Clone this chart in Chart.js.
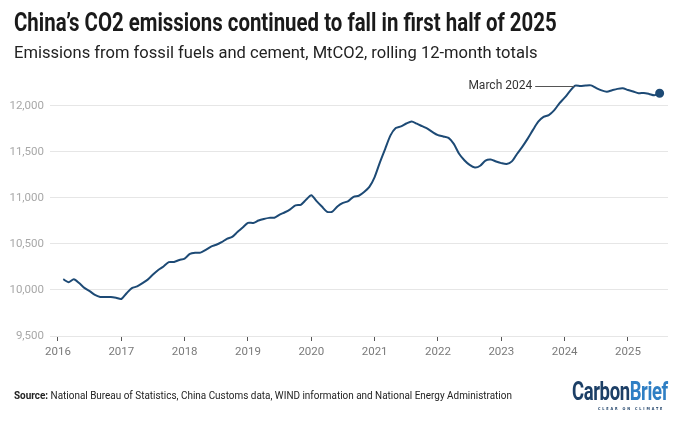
<!DOCTYPE html>
<html>
<head>
<meta charset="utf-8">
<script src="https://cdn.jsdelivr.net/npm/chart.js@4.4.1/dist/chart.umd.min.js"></script>
<style>
  html, body { margin: 0; padding: 0; background: #fff; }
  #wrap { position: relative; width: 680px; height: 427px; overflow: hidden; }
  #chart { position: absolute; left: 0; top: 0; }
  .txt { position: absolute; white-space: nowrap; transform-origin: left center; }
  #title { left: 14px; top: 8px; font: bold 25px/30px Roboto, sans-serif; color: #1a1a1a; }
  #subtitle { left: 14px; top: 41px; font: 17px/22px Roboto, sans-serif; color: #222; }
  #source { left: 14px; top: 388px; font: 11.5px/15px Roboto, sans-serif; color: #222; }
  #logo { left: 572px; top: 378px; font: bold 25px/28px Roboto, sans-serif; letter-spacing: -0.5px; }
  #logo .c { color: #1c3f66; }
  #logo .b { color: #2f7fc4; }
  #tag { left: 598px; top: 406px; font: bold 4px/6px "DejaVu Sans", sans-serif; letter-spacing: 2.2px; color: #1c3f66; }
</style>
</head>
<body>
<div id="wrap">
  <canvas id="chart" width="680" height="427"></canvas>
  <div class="txt" id="title" data-w="543">China’s CO2 emissions continued to fall in first half of 2025</div>
  <div class="txt" id="subtitle" data-w="524">Emissions from fossil fuels and cement, MtCO2, rolling 12-month totals</div>
  <div class="txt" id="source" data-w="498"><b>Source:</b> National Bureau of Statistics, China Customs data, WIND information and National Energy Administration</div>
  <div class="txt" id="logo" data-w="96"><span class="c">Carbon</span><span class="b">Brief</span></div>
  <div class="txt" id="tag" data-w="66">CLEAR ON CLIMATE</div>
</div>
<script>
// rolling 12-month totals, MtCO2, monthly from Feb 2016
const firstYear = 2016;
const firstMonth = 2;
const emissions = [
  10116, 10084, 10116, 10075, 10022, 9987, 9946, 9924, 9924, 9924, 9915,
  9902, 9964, 10020, 10038, 10073, 10112, 10167, 10217, 10255, 10302, 10304, 10325,
  10340, 10390, 10403, 10405, 10435, 10470, 10490, 10518, 10555, 10575, 10628, 10677,
  10728, 10727, 10753, 10770, 10782, 10784, 10818, 10843, 10875, 10918, 10924, 10978,
  11027, 10964, 10905, 10848, 10851, 10908, 10944, 10964, 11010, 11022, 11062, 11118,
  11225, 11385, 11532, 11677, 11757, 11775, 11806, 11828, 11804, 11777, 11750, 11712,
  11680, 11666, 11650, 11585, 11478, 11408, 11357, 11330, 11348, 11404, 11415, 11394,
  11376, 11366, 11395, 11478, 11555, 11642, 11737, 11826, 11878, 11898, 11948, 12025,
  12086, 12157, 12217, 12212, 12219, 12220, 12191, 12166, 12152, 12168, 12182, 12188,
  12169, 12153, 12134, 12138, 12127, 12112, 12134
];
const yearTicks = [2016, 2017, 2018, 2019, 2020, 2021, 2022, 2023, 2024, 2025];
const valueTicks = [9500, 10000, 10500, 11000, 11500, 12000];
const noteLabel = 'March 2024';
const noteYear = 2024;
const noteMonth = 3;

// squeeze header/footer text to the condensed widths of the original
document.querySelectorAll('.txt[data-w]').forEach(el => {
  const w = el.scrollWidth;
  el.style.transform = 'scaleX(' + (Number(el.dataset.w) / w) + ')';
});

const points = emissions.map((v, i) => {
  const m = firstMonth - 1 + i;
  return { x: firstYear + m / 12, y: v };
});
const noteIndex = (noteYear - firstYear) * 12 + (noteMonth - firstMonth);

const notePlugin = {
  id: 'note',
  afterDatasetsDraw(chart) {
    const pt = chart.getDatasetMeta(0).data[noteIndex];
    const ctx = chart.ctx;
    ctx.save();
    ctx.strokeStyle = '#555';
    ctx.lineWidth = 1;
    ctx.beginPath();
    ctx.moveTo(pt.x - 40, Math.round(pt.y) + 0.5);
    ctx.lineTo(pt.x - 1, Math.round(pt.y) + 0.5);
    ctx.stroke();
    ctx.fillStyle = '#333';
    ctx.font = '12px Roboto';
    ctx.textAlign = 'right';
    ctx.textBaseline = 'middle';
    ctx.fillText(noteLabel, pt.x - 43, pt.y);
    ctx.restore();
  }
};

new Chart(document.getElementById('chart'), {
  type: 'line',
  data: {
    datasets: [{
      data: points,
      borderColor: '#1d4a75',
      backgroundColor: '#1d4a75',
      borderWidth: 2,
      tension: 0.25,
      pointRadius: ctx => ctx.dataIndex === emissions.length - 1 ? 3.5 : 0,
      pointHoverRadius: 0,
      clip: false
    }]
  },
  options: {
    responsive: false,
    animation: false,
    events: [],
    layout: { padding: { top: 78, right: 12, bottom: 61, left: 0 } },
    plugins: { legend: { display: false }, tooltip: { enabled: false } },
    scales: {
      x: {
        type: 'linear',
        min: 2015.874,
        max: 2025.632,
        afterBuildTicks: s => { s.ticks = yearTicks.map(v => ({ value: v })); },
        afterFit: s => { s.height = 30; },
        border: { display: false },
        grid: { drawOnChartArea: false, drawTicks: true, tickLength: 5, tickColor: '#555', tickWidth: 1 },
        ticks: {
          callback: v => String(v),
          color: '#7a7a7a',
          font: { family: 'Roboto', size: 11.5 },
          padding: 4,
          maxRotation: 0
        }
      },
      y: {
        min: 9500,
        max: 12300,
        afterBuildTicks: s => { s.ticks = valueTicks.map(v => ({ value: v })); },
        afterFit: s => { s.width = 50; },
        border: { display: false },
        grid: { color: '#e6e6e6', lineWidth: 1, drawTicks: false },
        ticks: {
          callback: v => v.toLocaleString('en-US'),
          color: '#a8a8a8',
          font: { family: 'Roboto', size: 11.5 },
          padding: 6
        }
      }
    }
  },
  plugins: [notePlugin]
});
</script>
</body>
</html>
